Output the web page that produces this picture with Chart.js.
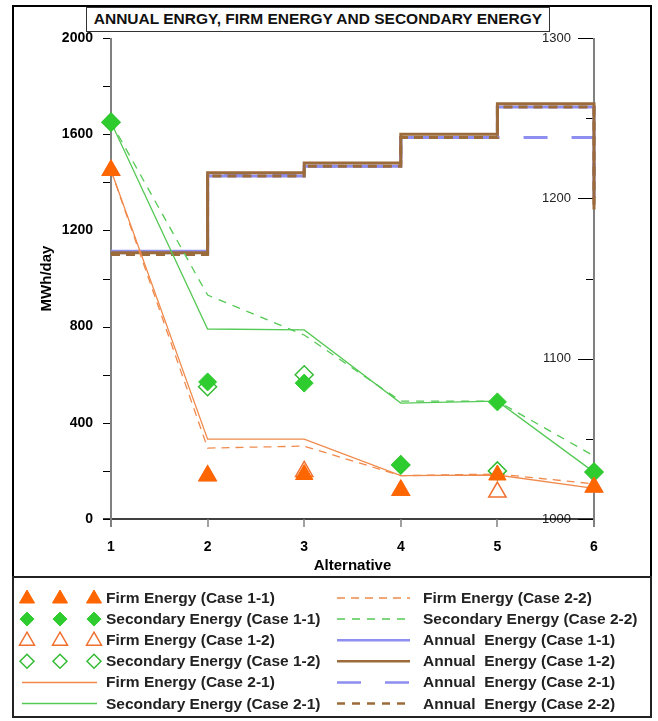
<!DOCTYPE html>
<html>
<head>
<meta charset="utf-8">
<script src="https://cdn.jsdelivr.net/npm/chart.js@4.4.1/dist/chart.umd.min.js"></script>
<style>
  html, body { margin: 0; padding: 0; background: #fff; }
  body { width: 658px; height: 721px; position: relative; overflow: hidden; font-family: "Liberation Sans", Arial, sans-serif; }
  #frame { position: absolute; left: 12px; top: 5px; width: 640px; height: 573px; border: 2px solid #000; box-sizing: border-box; }
  #chart { position: absolute; left: 0; top: 0; }
  #title { position: absolute; left: 86px; top: 7px; width: 464px; height: 25px; box-sizing: border-box; border: 1.5px solid #333; background: #fff;
           font-weight: bold; font-size: 15.5px; line-height: 22px; text-align: center; color: #111; }
  #legend { position: absolute; left: 12px; top: 576px; width: 640px; height: 142px; border: 2px solid #222; box-sizing: border-box; }
  #legendMarks { position: absolute; left: 0; top: 576px; }
  .lg { position: absolute; font-weight: bold; font-size: 15.5px; line-height: 20px; white-space: pre; color: #222; }
</style>
</head>
<body>
<div id="frame"></div>
<canvas id="chart" width="658" height="578" style="width:658px;height:578px"></canvas>
<div id="title">ANNUAL ENRGY, FIRM ENERGY AND SECONDARY ENERGY</div>
<div id="legend"></div>
<svg id="legendMarks" width="658" height="145" xmlns="http://www.w3.org/2000/svg"></svg>
<script>
// data
const alternatives = ["1", "2", "3", "4", "5", "6"];
const firmCase11 = [1450, 180, 185, 120, 183, 133];
const secCase11  = [1650, 570, 565, 225, 487, 195];
const firmCase12 = [1450, 180, 198, 120, 112, 133];
const secCase12  = [1650, 550, 600, 225, 200, 195];
const firmCase21 = [1450, 332, 332, 180, 183, 127];
const secCase21  = [1650, 790, 786, 482, 490, 195];
const firmCase22 = [1450, 295, 303, 180, 187, 146];
const secCase22  = [1650, 931, 765, 490, 490, 262];
const annualCase11 = [1167, 1214, 1220, 1238, 1257, 1200];
const annualCase12 = [1166, 1216, 1222, 1240, 1259, 1193];
const annualCase21 = [1166, 1215, 1220, 1238, 1238, 1214];
const annualCase22 = [1165, 1214, 1220, 1238, 1257, 1196];
const leftTicks  = [0, 400, 800, 1200, 1600, 2000];
const rightTicks = [1000, 1100, 1200, 1300];

const FONT = "'Liberation Sans', Arial, sans-serif";
const ORANGE = "#ff6600";
const GREEN = "#2ecc2e";
const ORANGE_LINE = "#f08a4c";
const GREEN_LINE = "#55c955";
const BLUE = "#8e8ef0";
const BROWN = "#9c6b3c";

function markers(label, data, style, color, filled, order) {
  return {
    label, data, order, yAxisID: "y", showLine: false, clip: false,
    pointStyle: style, pointRadius: style === "triangle" ? 10 : 9, pointHoverRadius: 0,
    pointBackgroundColor: filled ? color : "#fff",
    pointBorderColor: color, pointBorderWidth: filled ? 1 : 1.5,
    kind: "marker", filled
  };
}
function line(label, data, color, width, dash, axis, order) {
  return {
    label, data, order, yAxisID: axis, clip: false,
    borderColor: color, borderWidth: width, borderDash: dash,
    pointRadius: 0, tension: 0, stepped: axis === "y2" ? "before" : false,
    kind: "line"
  };
}

const datasets = [
  markers("Firm Energy (Case 1-1)", firmCase11, "triangle", ORANGE, true, 0),
  markers("Secondary Energy (Case 1-1)", secCase11, "rectRot", GREEN, true, 1),
  markers("Firm Energy (Case 1-2)", firmCase12, "triangle", "#f07030", false, 2),
  markers("Secondary Energy (Case 1-2)", secCase12, "rectRot", "#34bb34", false, 3),
  line("Firm Energy (Case 2-1)", firmCase21, ORANGE_LINE, 1.3, [], "y", 4),
  line("Secondary Energy (Case 2-1)", secCase21, GREEN_LINE, 1.3, [], "y", 5),
  line("Firm Energy (Case 2-2)", firmCase22, ORANGE_LINE, 1.3, [8, 6], "y", 6),
  line("Secondary Energy (Case 2-2)", secCase22, GREEN_LINE, 1.3, [8, 7], "y", 7),
  line("Annual  Energy (Case 1-1)", annualCase11, BLUE, 3, [], "y2", 11),
  line("Annual  Energy (Case 1-2)", annualCase12, BROWN, 3, [], "y2", 8),
  line("Annual  Energy (Case 2-1)", annualCase21, BLUE, 3, [24, 24], "y2", 10),
  line("Annual  Energy (Case 2-2)", annualCase22, BROWN, 3, [9, 6], "y2", 9)
];

const axisPainter = {
  id: "axisPainter",
  beforeDatasetsDraw(chart) {
    const { ctx, chartArea } = chart;
    const xs = chart.scales.x, ys = chart.scales.y, ys2 = chart.scales.y2;
    const L = Math.round(chartArea.left), R = Math.round(chartArea.right);
    const T = Math.round(chartArea.top), B = Math.round(chartArea.bottom);
    ctx.save();
    // x axis
    ctx.strokeStyle = "#000";
    ctx.lineWidth = 1.5;
    ctx.beginPath(); ctx.moveTo(L - 8, B); ctx.lineTo(R, B); ctx.stroke();
    ctx.strokeStyle = "#808080";
    for (let i = 0; i < alternatives.length; i++) {
      const px = Math.round(xs.getPixelForTick(i));
      ctx.beginPath(); ctx.moveTo(px, B); ctx.lineTo(px, B + 8); ctx.stroke();
    }
    // left ticks, minor every half step
    const lStep = leftTicks[1] - leftTicks[0];
    ctx.strokeStyle = "#000";
    ctx.lineWidth = 1;
    for (let v = leftTicks[0]; v <= leftTicks[leftTicks.length - 1]; v += lStep / 2) {
      const py = Math.round(ys.getPixelForValue(v)) + 0.5;
      ctx.beginPath(); ctx.moveTo(L - 8, py); ctx.lineTo(L, py); ctx.stroke();
    }
    // right ticks, pointing inwards
    const rStep = rightTicks[1] - rightTicks[0];
    for (let v = rightTicks[0]; v <= rightTicks[rightTicks.length - 1]; v += rStep / 2) {
      const py = Math.round(ys2.getPixelForValue(v)) + 0.5;
      const len = (v - rightTicks[0]) % rStep === 0 ? 16 : 8;
      ctx.beginPath(); ctx.moveTo(R - len, py); ctx.lineTo(R, py); ctx.stroke();
    }
    // vertical axis lines
    ctx.strokeStyle = "#808080";
    ctx.lineWidth = 2;
    ctx.beginPath();
    ctx.moveTo(L, T); ctx.lineTo(L, B + 8);
    ctx.moveTo(R, T); ctx.lineTo(R, B + 8);
    ctx.stroke();
    ctx.restore();
  }
};

const plain = v => String(v);

const chart = new Chart(document.getElementById("chart"), {
  type: "line",
  data: { labels: alternatives, datasets },
  options: {
    responsive: false,
    devicePixelRatio: 1,
    animation: false,
    events: [],
    layout: { padding: { left: 30, top: 38, right: 0, bottom: 0 } },
    plugins: { legend: { display: false }, title: { display: false }, tooltip: { enabled: false } },
    scales: {
      x: {
        type: "category", offset: false,
        grid: { display: false, drawTicks: false }, border: { display: false },
        ticks: { color: "#000", font: { family: FONT, size: 14, weight: "bold" }, padding: 20, autoSkip: false, maxRotation: 0 },
        title: { display: true, text: "Alternative", color: "#000", font: { family: FONT, size: 15, weight: "bold" }, padding: { top: 0, bottom: 3 } },
        afterFit(s) { s.height = 59; }
      },
      y: {
        position: "left",
        min: leftTicks[0], max: leftTicks[leftTicks.length - 1],
        grid: { display: false, drawTicks: false }, border: { display: false },
        ticks: { stepSize: leftTicks[1] - leftTicks[0], callback: plain, color: "#000", font: { family: FONT, size: 14, weight: "bold" }, padding: 18 },
        title: { display: true, text: "MWh/day", color: "#000", font: { family: FONT, size: 15, weight: "bold" }, padding: { top: 8, bottom: 8 } },
        afterFit(s) { s.width = 81; }
      },
      y2: {
        position: "right",
        min: rightTicks[0], max: rightTicks[rightTicks.length - 1],
        grid: { display: false, drawTicks: false }, border: { display: false },
        ticks: { stepSize: rightTicks[1] - rightTicks[0], callback: plain, mirror: true, color: "#222", font: { family: FONT, size: 13 }, padding: -23 },
        afterFit(s) { s.width = 64; }
      }
    }
  },
  plugins: [axisPainter]
});

// legend: two columns of six rows, built from the datasets
const svgNS = "http://www.w3.org/2000/svg";
const marks = document.getElementById("legendMarks");
function el(name, attrs) {
  const e = document.createElementNS(svgNS, name);
  for (const k in attrs) e.setAttribute(k, attrs[k]);
  marks.appendChild(e);
  return e;
}
const rowY = r => 22 + r * 21.1;
datasets.forEach((ds, i) => {
  const col = i < 6 ? 0 : 1;
  const cy = rowY(i % 6);
  if (ds.kind === "marker") {
    [27, 60, 94].forEach(cx => {
      const pts = ds.pointStyle === "triangle"
        ? `${cx},${cy - 8} ${cx + 7.5},${cy + 5} ${cx - 7.5},${cy + 5}`
        : `${cx},${cy - 7} ${cx + 7},${cy} ${cx},${cy + 7} ${cx - 7},${cy}`;
      el("polygon", { points: pts, fill: ds.filled ? ds.pointBorderColor : "#fff",
        stroke: ds.pointBorderColor, "stroke-width": ds.filled ? 1 : 1.5 });
    });
  } else {
    const x1 = col === 0 ? 22 : 337, x2 = col === 0 ? 97 : 410;
    el("line", { x1, y1: cy, x2, y2: cy, stroke: ds.borderColor,
      "stroke-width": ds.borderWidth > 2 ? 2.5 : 1.5,
      "stroke-dasharray": ds.borderDash.length ? (ds.borderWidth > 2 && ds.borderDash[0] < 12 ? "8 7" : ds.borderDash.join(" ")) : "none" });
  }
  const span = document.createElement("div");
  span.className = "lg";
  span.textContent = ds.label;
  span.style.left = (col === 0 ? 106 : 423) + "px";
  span.style.top = (576 + cy - 10) + "px";
  document.body.appendChild(span);
});
</script>
</body>
</html>
